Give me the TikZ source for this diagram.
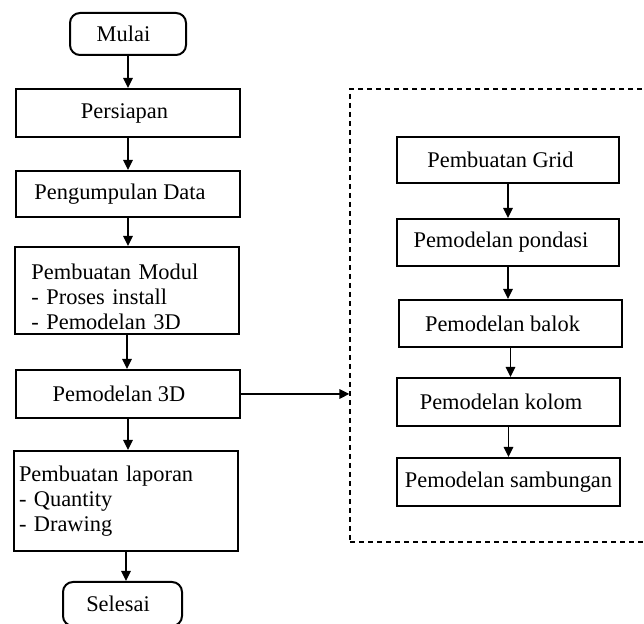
\documentclass[tikz,border=0pt]{standalone}
\usepackage{fontspec}
\setmainfont{Liberation Serif}
\usetikzlibrary{arrows.meta}

\begin{document}
\begin{tikzpicture}[x=0.5pt, y=-0.5pt,
  box/.style={draw, line width=1pt, minimum width=112pt, inner sep=0pt, font=\fontsize{11.2}{12.5}\selectfont},
  term/.style={box, rounded corners=5pt},
  lft/.style={execute at end node=\hspace*{#1}},
  arr/.style={-{Triangle[length=5pt,width=4.8pt]}, line width=0.7pt}]
  \useasboundingbox (0,0) rectangle (644,624);
  \node[term, lft=4.5pt, minimum width=58pt, minimum height=21pt] (mulai) at (128,34) {Mulai};
  \node[box, lft=3.5pt, minimum height=24pt] (persiapan) at (128,113) {Persiapan};
  \node[box, lft=8pt, minimum height=23pt] (data) at (128,194) {Pengumpulan Data};
  \node[box, minimum height=43.5pt, text width=95.5pt, inner xsep=8pt, align=left] (modul) at (127,290.5) {\rule{0pt}{14pt}Pembuatan Modul\\- Proses install\\- Pemodelan 3D};
  \node[box, lft=9pt, minimum height=24pt] (model) at (128,394) {Pemodelan 3D};
  \node[box, minimum height=50pt, text width=107pt, inner xsep=2.5pt, align=left] (laporan) at (126,501) {Pembuatan laporan\\- Quantity\\- Drawing};
  \node[term, lft=4.5pt, minimum width=59.5pt, minimum height=22pt] (selesai) at (122.5,604) {Selesai};

  \node[draw, dash pattern=on 2.5pt off 2pt, line width=0.7pt, minimum width=160pt, minimum height=226.5pt] (sub) at (510,315.5) {};
  \node[box, lft=7.5pt, minimum width=111pt, minimum height=23pt] (grid) at (508,160) {Pembuatan Grid};
  \node[box, lft=7pt, minimum width=111pt, minimum height=23.5pt] (pondasi) at (508,242.5) {Pemodelan pondasi};
  \node[box, lft=8pt, minimum width=111.5pt, minimum height=23.5pt] (balok) at (510.5,323.5) {Pemodelan balok};
  \node[box, lft=7.5pt, minimum width=111.5pt, minimum height=24pt] (kolom) at (508.5,402) {Pemodelan kolom};
  \node[box, minimum width=111.5pt, minimum height=24pt] (sambungan) at (508.5,482) {Pemodelan sambungan};

  \foreach \a/\b in {mulai/persiapan, persiapan/data, data/modul, modul/model, model/laporan, laporan/selesai, grid/pondasi, pondasi/balok, balok/kolom, kolom/sambungan}
    \draw[arr] (\a.south) -- (\a.south |- \b.north);
  \draw[arr] (model.east) -- (model.east -| sub.west);
\end{tikzpicture}
\end{document}
